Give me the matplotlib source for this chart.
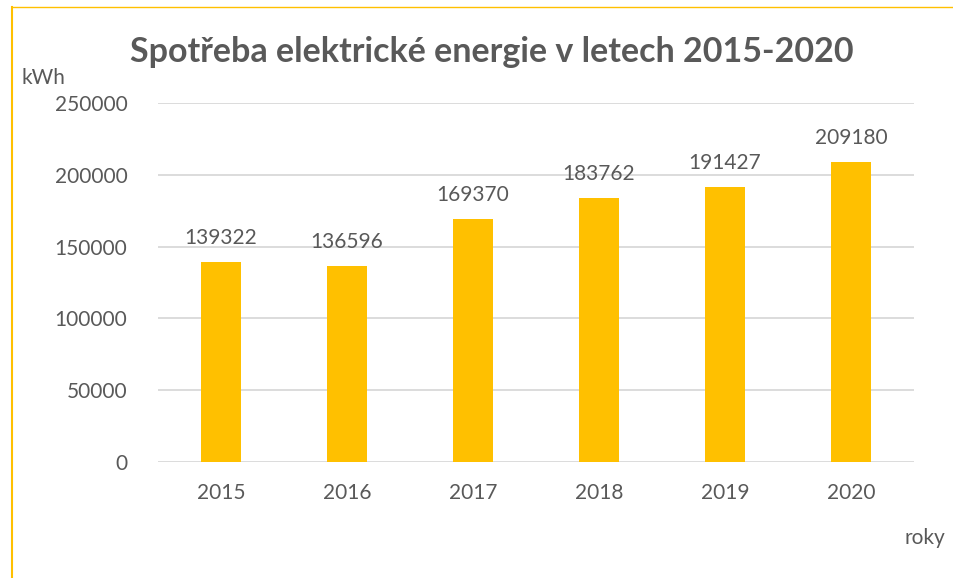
import matplotlib
matplotlib.use("Agg")
import matplotlib.pyplot as plt
from matplotlib.lines import Line2D

years = ["2015", "2016", "2017", "2018", "2019", "2020"]
values = [139322, 136596, 169370, 183762, 191427, 209180]
yticks = [0, 50000, 100000, 150000, 200000, 250000]

title = "Spotřeba elektrické energie v letech 2015-2020"
ylabel = "kWh"
xlabel = "roky"

TXT = "#595959"
BAR = "#FFC000"
GRID = "#D9D9D9"

plt.rcParams['font.family'] = ['Lato', 'DejaVu Sans']

fig = plt.figure(figsize=(9.54, 5.78), dpi=100)
W, H = 954, 578
ax = fig.add_axes([158 / W, 1 - 462 / H, (914 - 158) / W, (462 - 103) / H])

x = list(range(len(years)))
ax.bar(x, values, width=0.31, color=BAR, zorder=3)
ax.set_xlim(-0.5, len(years) - 0.5)
ax.set_ylim(0, 250000)
ax.set_yticks(yticks)
ax.set_yticklabels([str(v) for v in yticks])
ax.set_xticks(x)
ax.set_xticklabels(years)
ax.grid(axis='y', color=GRID, linewidth=1.3, zorder=0)
for s in ax.spines.values():
    s.set_visible(False)
ax.tick_params(axis='both', length=0, labelsize=15, colors=TXT)
ax.tick_params(axis='y', pad=22)
ax.tick_params(axis='x', pad=15)

for xi, v in zip(x, values):
    ax.annotate(str(v), (xi, v), xytext=(0, 10), textcoords='offset points',
                ha='center', va='bottom', fontsize=15, color=TXT)

fig.text(492 / W, 1 - 52 / H, title, ha='center', va='center',
         fontsize=24.5, fontweight='bold', color=TXT)
fig.text(22 / W, 1 - 78 / H, ylabel, ha='left', va='center', fontsize=15, color=TXT)
fig.text(945 / W, 1 - 538 / H, xlabel, ha='right', va='center', fontsize=15, color=TXT)

# border lines
fig.add_artist(Line2D([12.5 / W, 12.5 / W], [0, 1 - 7 / H], transform=fig.transFigure,
                      color=BAR, linewidth=1.5))
fig.add_artist(Line2D([12.5 / W, 1], [1 - 7 / H, 1 - 7 / H], transform=fig.transFigure,
                      color=BAR, linewidth=1.0))

fig.savefig("out.png", dpi=100)
